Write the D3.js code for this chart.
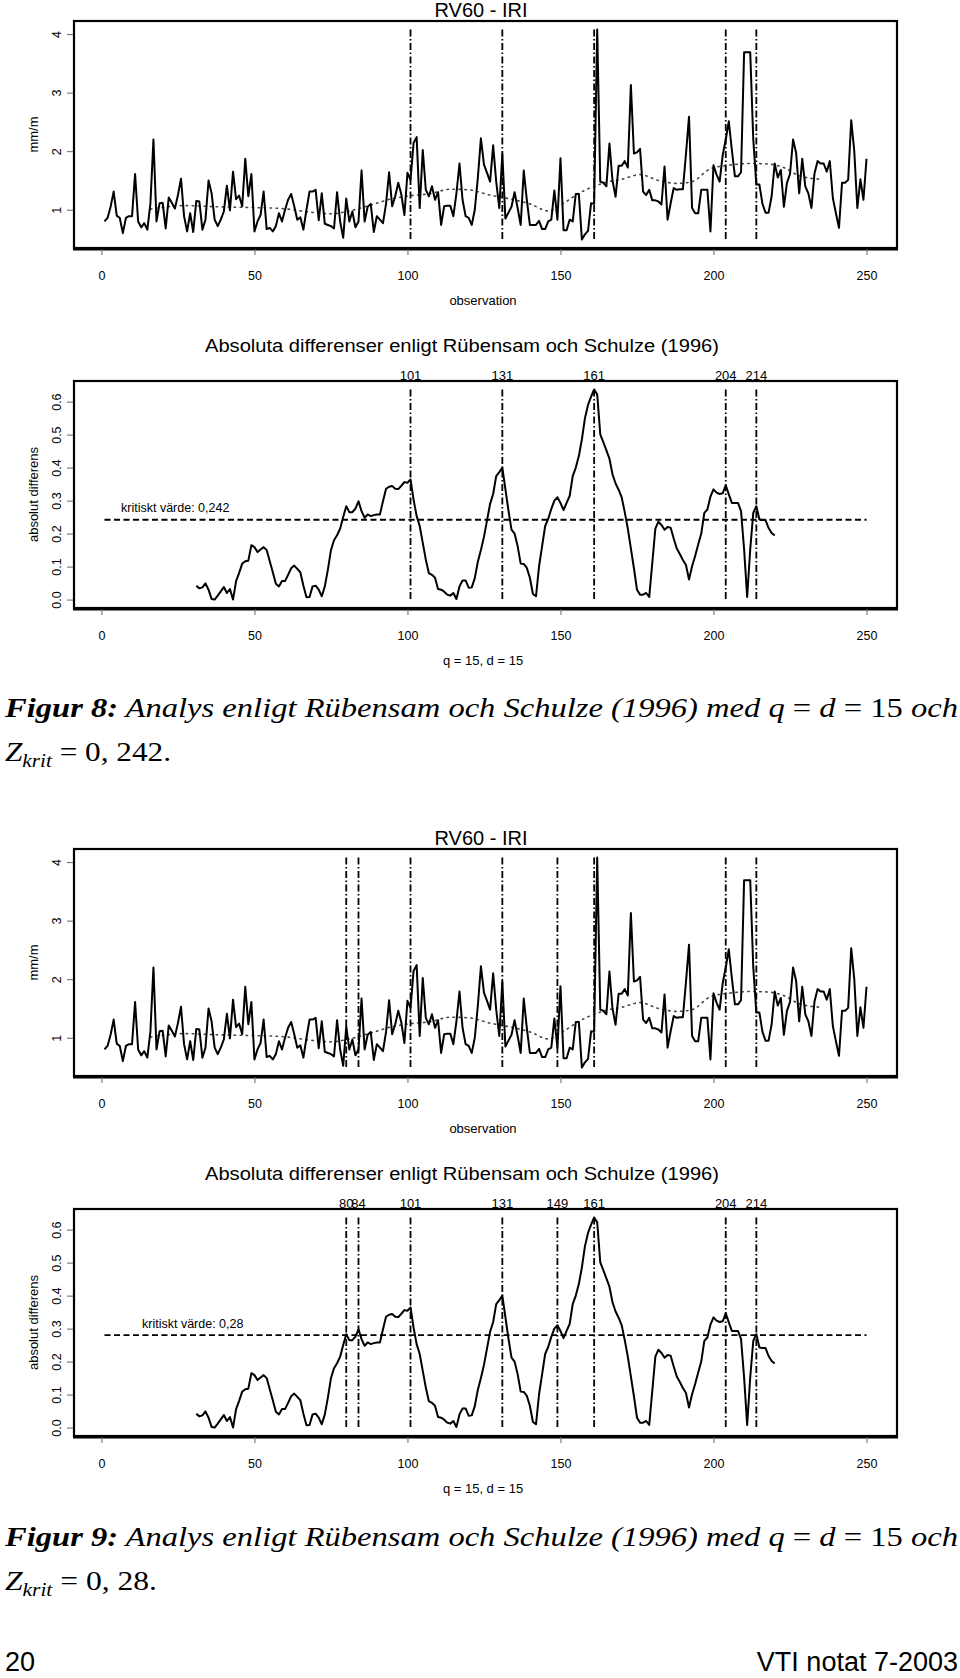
<!DOCTYPE html>
<html><head><meta charset="utf-8">
<script src="https://cdn.jsdelivr.net/npm/d3@7"></script>
<style>body{margin:0;background:#fff}svg{display:block}</style>
</head><body>
<svg id="c" width="960" height="1678"></svg>
<script>
// ---------- data ----------
// RV60 IRI, observation 1..250 (mm/m)
const iri = [
0.80,0.86,1.05,1.31,0.90,0.86,0.60,0.86,0.89,0.89,
1.61,0.80,0.70,0.77,0.66,1.10,2.20,0.80,1.11,1.12,
0.68,1.21,1.12,1.02,1.25,1.53,0.89,0.63,0.94,0.62,
1.15,1.14,0.66,0.83,1.50,1.28,0.83,0.72,0.83,0.97,
1.41,0.99,1.65,1.18,1.24,1.06,1.87,1.23,1.61,0.63,
0.80,0.91,1.31,0.67,0.69,0.63,0.72,0.94,0.80,1.00,
1.17,1.27,1.06,0.83,0.87,0.66,1.00,1.31,1.31,1.34,
0.82,1.28,0.76,0.74,0.72,0.68,1.30,0.80,0.52,1.19,
0.80,0.97,0.70,0.80,1.67,0.80,1.05,1.10,0.62,0.89,
0.83,0.77,1.10,1.64,1.06,1.23,1.46,1.26,0.91,1.63,
1.51,2.14,2.24,1.03,2.02,1.34,1.23,1.40,1.17,1.30,
0.74,1.06,1.07,1.07,0.89,1.28,1.79,1.17,0.89,0.86,
0.74,1.00,1.55,2.22,1.77,1.63,1.48,2.10,1.48,1.03,
1.95,0.85,0.95,1.05,1.30,1.03,0.74,1.67,1.17,0.74,
0.74,0.74,0.81,0.67,0.67,0.80,0.83,1.33,0.83,1.88,
0.65,0.65,0.83,0.80,1.27,1.27,0.49,0.58,0.64,1.11,
1.10,4.08,1.48,1.46,1.40,2.13,1.50,1.22,1.75,1.75,
1.83,1.72,3.13,1.96,1.98,2.04,1.31,1.25,1.34,1.16,
1.16,1.14,1.09,1.74,0.83,1.11,1.37,1.34,1.35,1.35,
1.95,2.59,1.03,0.94,0.94,1.34,1.34,1.34,0.63,1.76,
1.60,1.48,1.93,2.20,2.51,2.02,1.57,1.57,1.64,3.69,
3.69,3.69,2.20,1.43,1.43,1.10,0.95,0.95,1.23,1.79,
1.55,1.68,1.05,1.46,1.61,2.20,1.97,1.28,1.87,1.40,
1.28,1.03,1.62,1.83,1.79,1.79,1.65,1.83,1.20,0.94,
0.69,1.46,1.46,1.51,2.53,2.00,1.03,1.52,1.17,1.87
];
// dotted trend line
const trendObs = [16,27,38,47,59,68,75,81,88,95,101,107,114,120,127,133,140,146,151,156,160,165,170,176,182,188,193,199,205,212,218,223,228,235];
const trendVal = [1.01,1.07,1.05,1.04,1.02,0.96,0.93,0.98,1.08,1.19,1.24,1.27,1.35,1.34,1.25,1.19,1.10,0.98,1.11,1.28,1.38,1.47,1.52,1.60,1.50,1.45,1.48,1.70,1.76,1.79,1.78,1.72,1.58,1.52];
// absolute differences, observation 31..220
const absDiffStart = 31;
const absDiff = [
0.042,0.034,0.037,0.049,0.030,0.002,0.000,0.012,0.025,0.038,
0.020,0.032,0.000,0.056,0.081,0.109,0.116,0.118,0.165,0.159,
0.144,0.152,0.159,0.150,0.116,0.083,0.048,0.040,0.056,0.056,
0.075,0.095,0.103,0.093,0.083,0.042,0.007,0.008,0.040,0.042,
0.030,0.010,0.040,0.091,0.150,0.180,0.195,0.215,0.250,0.283,
0.265,0.265,0.276,0.298,0.268,0.248,0.258,0.253,0.256,0.258,
0.258,0.298,0.336,0.342,0.344,0.336,0.335,0.345,0.356,0.354,
0.364,0.303,0.253,0.223,0.172,0.121,0.080,0.075,0.066,0.032,
0.030,0.024,0.015,0.012,0.020,0.002,0.040,0.058,0.058,0.036,
0.037,0.065,0.115,0.150,0.190,0.240,0.290,0.320,0.374,0.386,
0.400,0.335,0.270,0.212,0.200,0.162,0.109,0.108,0.096,0.066,
0.017,0.010,0.101,0.162,0.223,0.245,0.275,0.300,0.310,0.293,
0.271,0.293,0.314,0.374,0.400,0.435,0.486,0.550,0.590,0.615,
0.637,0.622,0.501,0.477,0.452,0.427,0.380,0.352,0.333,0.310,
0.265,0.215,0.155,0.095,0.030,0.015,0.015,0.020,0.008,0.111,
0.215,0.236,0.226,0.212,0.220,0.218,0.185,0.155,0.138,0.120,
0.105,0.061,0.101,0.132,0.167,0.200,0.263,0.273,0.312,0.334,
0.324,0.320,0.322,0.346,0.319,0.293,0.293,0.293,0.268,0.152,
0.008,0.152,0.263,0.283,0.243,0.241,0.241,0.217,0.202,0.194
];
const xTicks = [0,50,100,150,200,250];
const iriTicks = [1,2,3,4];
const diffTicks = [0,0.1,0.2,0.3,0.4,0.5,0.6];
const breaksFig8 = [101,131,161,204,214];
const breaksFig9 = [80,84,101,131,149,161,204,214];
const critFig8 = 0.242;
const critFig9 = 0.28;
const critLabelFig8 = "kritiskt värde: 0,242";
const critLabelFig9 = "kritiskt värde: 0,28";

// ---------- drawing ----------
const SANS = "'Liberation Sans', Arial, sans-serif";
const SERIF = "'Liberation Serif', 'Times New Roman', serif";
const svg = d3.select("#c");
svg.append("rect").attr("width",960).attr("height",1678).attr("fill","#fff");

const L = 74, R = 897, TOP = 21, BOT = 248;
const x = d3.scaleLinear().domain([-8.96, 259.96]).range([L, R]);

function frame(g) {
  g.append("rect").attr("x",L).attr("y",TOP).attr("width",R-L).attr("height",BOT-TOP)
    .attr("fill","none").attr("stroke","#000").attr("stroke-width",2.2);
  g.append("line").attr("x1",L-1).attr("x2",R+1).attr("y1",BOT+0.8).attr("y2",BOT+0.8)
    .attr("stroke","#000").attr("stroke-width",3.2);
}
function xAxis(g, label) {
  const ax = g.append("g").attr("transform",`translate(0,${BOT+1})`)
    .call(d3.axisBottom(x).tickValues(xTicks).tickSize(6).tickFormat(d3.format("d")));
  ax.select(".domain").remove();
  ax.selectAll(".tick line").attr("stroke","#666").attr("stroke-width",1);
  ax.selectAll(".tick text").attr("y",22).attr("font-family",SANS).attr("font-size","12.5px").attr("fill","#000");
  g.append("text").attr("x",483).attr("y",304.5).attr("text-anchor","middle")
    .attr("font-family",SANS).attr("font-size","13px").text(label);
}
function yAxis(g, y, ticks, fmt, label) {
  const ax = g.append("g").attr("transform",`translate(${L-1},0)`)
    .call(d3.axisLeft(y).tickValues(ticks).tickSize(6).tickFormat(fmt));
  ax.select(".domain").remove();
  ax.selectAll(".tick line").attr("stroke","#666").attr("stroke-width",1);
  ax.selectAll(".tick text").attr("transform","rotate(-90)").attr("x",0).attr("y",-16).attr("dy",null)
    .attr("text-anchor","middle").attr("dominant-baseline","central")
    .attr("font-family",SANS).attr("font-size","12.5px").attr("fill","#000");
  g.append("text").attr("transform",`translate(33,${(TOP+BOT)/2}) rotate(-90)`)
    .attr("text-anchor","middle").attr("dominant-baseline","central")
    .attr("font-family",SANS).attr("font-size","13px").text(label);
}
function vlines(g, y, breaks, lo, hi) {
  g.selectAll(null).data(breaks).enter().append("line")
    .attr("x1",d=>x(d)).attr("x2",d=>x(d)).attr("y1",y(hi)).attr("y2",y(lo))
    .attr("stroke","#000").attr("stroke-width",1.8).attr("stroke-dasharray","7,2.5,1.5,2.5");
}

function seriesPanel(off, breaks) {
  const g = svg.append("g").attr("transform",`translate(0,${off})`);
  const y = d3.scaleLinear().domain([0.3464, 4.2236]).range([BOT, TOP]);
  g.append("text").attr("x",481).attr("y",17).attr("text-anchor","middle")
    .attr("font-family",SANS).attr("font-size","20px").text("RV60 - IRI");
  const tr = trendObs.map((o,i)=>[o,trendVal[i]]);
  g.append("path").datum(tr).attr("fill","none").attr("stroke","#444").attr("stroke-width",1.6)
    .attr("stroke-dasharray","1.4,4.6").attr("stroke-linecap","round")
    .attr("d", d3.line().x(d=>x(d[0])).y(d=>y(d[1])).curve(d3.curveMonotoneX));
  const ext = d3.extent(iri);
  vlines(g, y, breaks, ext[0], ext[1]);
  g.append("path").datum(iri).attr("fill","none").attr("stroke","#000").attr("stroke-width",2)
    .attr("stroke-linejoin","round")
    .attr("d", d3.line().x((d,i)=>x(i+1)).y(d=>y(d)));
  frame(g);
  yAxis(g, y, iriTicks, d3.format("d"), "mm/m");
  xAxis(g, "observation");
}

function diffPanel(off, breaks, crit, critLabel, critX) {
  const g = svg.append("g").attr("transform",`translate(0,${off})`);
  const y = d3.scaleLinear().domain([-0.0255, 0.6625]).range([BOT, TOP]);
  g.append("text").attr("x",205).attr("y",-8.3)
    .attr("font-family",SANS).attr("font-size","18.7px")
    .attr("textLength",514).attr("lengthAdjust","spacingAndGlyphs")
    .text("Absoluta differenser enligt Rübensam och Schulze (1996)");
  g.append("line").attr("x1",x(1)).attr("x2",x(250)).attr("y1",y(crit)).attr("y2",y(crit))
    .attr("stroke","#000").attr("stroke-width",1.8).attr("stroke-dasharray","6,3.5");
  g.append("text").attr("x",critX).attr("y",y(crit)-7.5)
    .attr("font-family",SANS).attr("font-size","12.5px").text(critLabel);
  const ext = d3.extent(absDiff);
  vlines(g, y, breaks, ext[0], ext[1]);
  g.selectAll(null).data(breaks).enter().append("text")
    .attr("x",d=>x(d)).attr("y",19.5).attr("text-anchor","middle")
    .attr("font-family",SANS).attr("font-size","13px").text(d=>d);
  g.append("path").datum(absDiff).attr("fill","none").attr("stroke","#000").attr("stroke-width",2)
    .attr("stroke-linejoin","round")
    .attr("d", d3.line().x((d,i)=>x(i+absDiffStart)).y(d=>y(d)));
  frame(g);
  yAxis(g, y, diffTicks, d3.format(".1f"), "absolut differens");
  xAxis(g, "q = 15, d = 15");
}

function caption(yBase, figNo, zText, line2Len) {
  const t = svg.append("text").attr("x",5).attr("y",yBase)
    .attr("font-family",SERIF).attr("font-size","28px").attr("font-style","italic")
    .attr("textLength",953).attr("lengthAdjust","spacingAndGlyphs")
    .style("white-space","pre");
  t.append("tspan").attr("font-weight","bold").text(`Figur ${figNo}:`);
  t.append("tspan").text(" Analys enligt Rübensam och Schulze (1996) med ");
  t.append("tspan").text("q");
  t.append("tspan").attr("font-style","normal").text(" = ");
  t.append("tspan").text("d");
  t.append("tspan").attr("font-style","normal").text(" = 15 ");
  t.append("tspan").text("och");
  const t2 = svg.append("text").attr("x",5).attr("y",yBase+44)
    .attr("font-family",SERIF).attr("font-size","28px").attr("font-style","italic")
    .attr("textLength",line2Len).attr("lengthAdjust","spacingAndGlyphs")
    .style("white-space","pre");
  t2.append("tspan").text("Z");
  t2.append("tspan").attr("dy",6).attr("font-size","19px").text("krit");
  t2.append("tspan").attr("dy",-6).attr("font-style","normal").text(" = 0, " + zText + ".");
}

seriesPanel(0, breaksFig8);
diffPanel(360, breaksFig8, critFig8, critLabelFig8, 121);
caption(717, 8, "242", 166);
seriesPanel(828, breaksFig9);
diffPanel(1188, breaksFig9, critFig9, critLabelFig9, 142);
caption(1546, 9, "28", 152);

svg.append("text").attr("x",5).attr("y",1671).attr("font-family",SANS).attr("font-size","27px").text("20");
svg.append("text").attr("x",958).attr("y",1671).attr("text-anchor","end").attr("font-family",SANS).attr("font-size","27px").text("VTI notat 7-2003");
</script>
</body></html>
